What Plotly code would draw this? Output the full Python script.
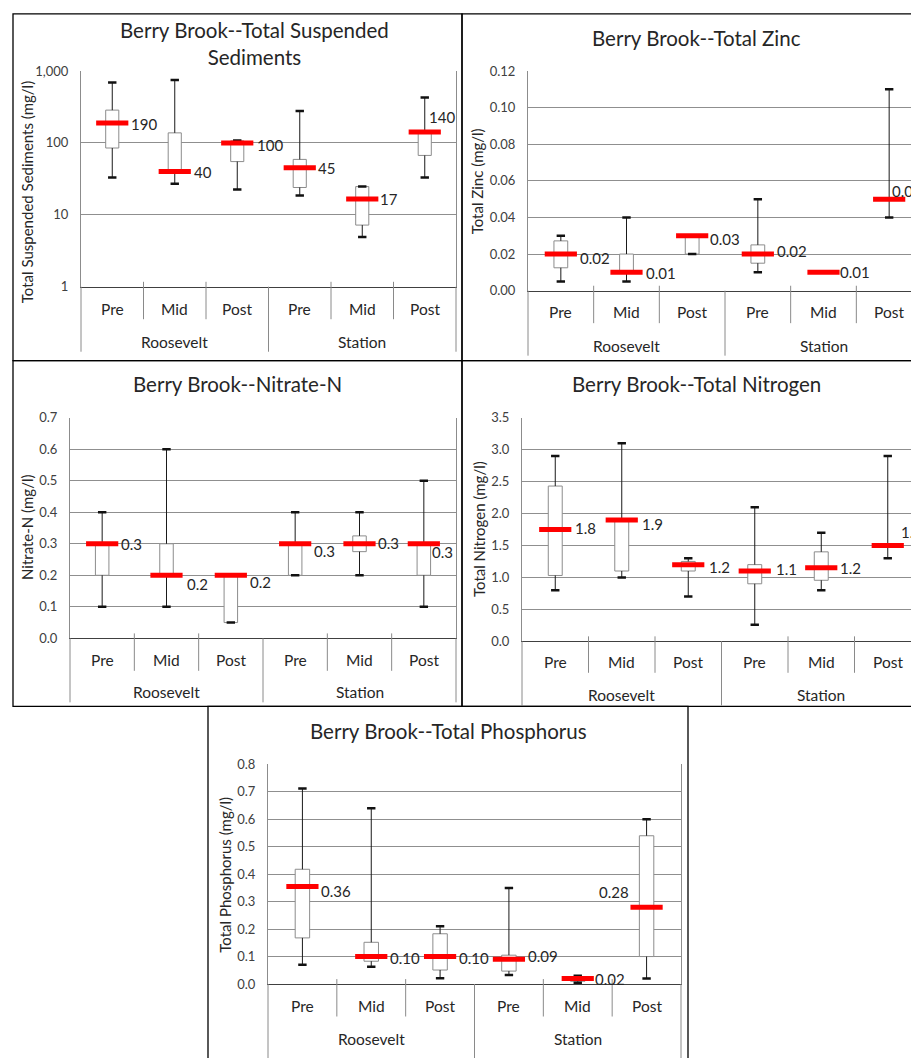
import numpy as np
import plotly.graph_objects as go

W, H = 911, 1058
FONT = "Lato"

categories = ["Pre", "Mid", "Post", "Pre", "Mid", "Post"]
groups = ["Roosevelt", "Station"]

# ---- Total Suspended Sediments (mg/l) ----
tss_min = [33, 27, 22.5, 18.5, 4.9, 33]
tss_q1 = [85, 40, 55, 24, 7.2, 67]
tss_med = [190, 40, 100, 45, 16.6, 142]
tss_q3 = [286, 138, 107, 59, 24.7, 142]
tss_max = [690, 750, 108, 277, 24.7, 430]
tss_lbl = ["190", "40", "100", "45", "17", "140"]

# ---- Total Zinc (mg/l) ----
zn_min = [0.005, 0.005, 0.02, 0.01, 0.01, 0.04]
zn_q1 = [0.0125, 0.01, 0.02, 0.015, 0.01, 0.05]
zn_med = [0.02, 0.01, 0.03, 0.02, 0.01, 0.05]
zn_q3 = [0.0272, 0.02, 0.03, 0.025, 0.01, 0.05]
zn_max = [0.03, 0.04, 0.03, 0.05, 0.01, 0.11]
zn_lbl = ["0.02", "0.01", "0.03", "0.02", "0.01", "0.05"]

# ---- Nitrate-N (mg/l) ----
no3_min = [0.1, 0.1, 0.05, 0.2, 0.2, 0.1]
no3_q1 = [0.2, 0.2, 0.05, 0.2, 0.275, 0.2]
no3_med = [0.3, 0.2, 0.2, 0.3, 0.3, 0.3]
no3_q3 = [0.3, 0.3, 0.2, 0.3, 0.325, 0.3]
no3_max = [0.4, 0.6, 0.2, 0.4, 0.4, 0.5]
no3_lbl = ["0.3", "0.2", "0.2", "0.3", "0.3", "0.3"]

# ---- Total Nitrogen (mg/l) ----
tn_min = [0.8, 1.0, 0.7, 0.26, 0.8, 1.3]
tn_q1 = [1.03, 1.1, 1.1, 0.9, 0.955, 1.5]
tn_med = [1.75, 1.9, 1.2, 1.1, 1.15, 1.5]
tn_q3 = [2.43, 1.9, 1.25, 1.2, 1.4, 1.5]
tn_max = [2.9, 3.1, 1.3, 2.1, 1.7, 2.9]
tn_lbl = ["1.8", "1.9", "1.2", "1.1", "1.2", "1.5"]

# ---- Total Phosphorus (mg/l) ----
tp_min = [0.07, 0.063, 0.021, 0.033, 0.005, 0.02]
tp_q1 = [0.168, 0.083, 0.051, 0.047, 0.01, 0.10]
tp_med = [0.355, 0.10, 0.10, 0.09, 0.02, 0.28]
tp_q3 = [0.418, 0.152, 0.183, 0.105, 0.025, 0.54]
tp_max = [0.712, 0.64, 0.21, 0.35, 0.03, 0.6]
tp_lbl = ["0.36", "0.10", "0.10", "0.09", "0.02", "0.28"]


def px(x):
    return x / W


def py(y):
    return 1 - y / H


# panel layout (pixel geometry, styles)
panels = [
    dict(data=(tss_min, tss_q1, tss_med, tss_q3, tss_max, tss_lbl),
         title="Berry Brook--Total Suspended<br>Sediments", title_xy=(254, 36.5),
         ytitle="Total Suspended Sediments (mg/l)", ytitle_xy=(27, 187),
         left=81, right_full=456, right_vis=456, top=64, bottom=283,
         inner_y=306, group_y=339, inner_div=316, group_div=349,
         log=True, yrange=[0, 3], tickvals=[1, 10, 100, 1000], ticktext=["1", "10", "100", "1,000"],
         mirror=True,
         offs=[(17, -1, "left"), (17, 0, "left"), (18, -2, "left"), (16, 0, "left"), (16, 0, "left"), (2, 15, "left")],
         border=(13, 6, 462, 358)),
    dict(data=(zn_min, zn_q1, zn_med, zn_q3, zn_max, zn_lbl),
         title="Berry Brook--Total Zinc", title_xy=(696.5, 30),
         ytitle="Total Zinc (mg/l)", ytitle_xy=(477, 176),
         left=528, right_full=922, right_vis=911, top=64, bottom=287,
         inner_y=309, group_y=343, inner_div=320, group_div=353,
         log=False, yrange=[0, 0.12], dtick=0.02, tickformat=".2f",
         mirror=False,
         offs=[(17, -4, "left"), (17, -1, "left"), (16, -3, "left"), (17, 3, "left"), (14, 0, "left"), (1, 8, "left")],
         border=(462, 6, 930, 358)),
    dict(data=(no3_min, no3_q1, no3_med, no3_q3, no3_max, no3_lbl),
         title="Berry Brook--Nitrate-N", title_xy=(237.5, 382),
         ytitle="Nitrate-N (mg/l)", ytitle_xy=(27, 527),
         left=70, right_full=456, right_vis=456, top=416, bottom=640,
         inner_y=662, group_y=695, inner_div=673, group_div=705,
         log=False, yrange=[0, 0.7], dtick=0.1, tickformat=".1f",
         mirror=True,
         offs=[(17, 0, "left"), (18, -9, "left"), (17, -7, "left"), (17, -7, "left"), (16, 1, "left"), (6, -8, "left")],
         border=(13, 358, 462, 709)),
    dict(data=(tn_min, tn_q1, tn_med, tn_q3, tn_max, tn_lbl),
         title="Berry Brook--Total Nitrogen", title_xy=(696, 382),
         ytitle="Total Nitrogen (mg/l)", ytitle_xy=(479, 529),
         left=522, right_full=921, right_vis=911, top=416, bottom=643,
         inner_y=664, group_y=698, inner_div=675, group_div=708,
         log=False, yrange=[0, 3.5], dtick=0.5, tickformat=".1f",
         mirror=False,
         offs=[(18, 1, "left"), (18, -4, "left"), (19, -2, "left"), (19, 2, "left"), (17, 0, "left"), (11, 13, "left")],
         border=(462, 358, 930, 709)),
    dict(data=(tp_min, tp_q1, tp_med, tp_q3, tp_max, tp_lbl),
         title="Berry Brook--Total Phosphorus", title_xy=(448, 734),
         ytitle="Total Phosphorus (mg/l)", ytitle_xy=(225, 880),
         left=268, right_full=681, right_vis=681, top=768, bottom=991,
         inner_y=1013, group_y=1047, inner_div=1024, group_div=1070,
         log=False, yrange=[0, 0.8], dtick=0.1, tickformat=".1f",
         mirror=True,
         offs=[(17, -4, "left"), (17, -1, "left"), (17, -1, "left"), (17, 3, "left"), (15, 0, "left"), (-16, 15, "right")],
         border=(208, 709, 688, 1075)),
]

fig = go.Figure()
shapes = []
annotations = []
layout_axes = {}

GRID = "#8f8f8f"
DIV = "#8a8a8a"
TXT = "#262626"
TICK = "#404040"

for k, p in enumerate(panels):
    n = "" if k == 0 else str(k + 1)
    xa, ya = "x" + n, "y" + n
    vmin, vq1, vmed, vq3, vmax, vlbl = p["data"]
    xs = list(range(len(categories)))
    cw = (p["right_full"] - p["left"]) / 6
    xr = [-0.5, -0.5 + (p["right_vis"] - p["left"]) / cw]

    # whiskers
    wx, wy = [], []
    for i in xs:
        wx += [i, i, None, i, i, None]
        wy += [vq3[i], vmax[i], None, vq1[i], vmin[i], None]
    fig.add_trace(go.Scatter(x=wx, y=wy, mode="lines", line=dict(color="#1a1a1a", width=1),
                             xaxis=xa, yaxis=ya, showlegend=False, hoverinfo="skip"))
    # boxes
    fig.add_trace(go.Box(x=xs, q1=vq1, median=vmed, q3=vq3, lowerfence=vq1, upperfence=vq3,
                         width=0.21, fillcolor="white", line=dict(color="#8c8c8c", width=1),
                         whiskerwidth=0, boxpoints=False, xaxis=xa, yaxis=ya, showlegend=False))
    # caps
    fig.add_trace(go.Scatter(x=xs + xs, y=list(vmax) + list(vmin), mode="markers",
                             marker=dict(symbol="line-ew", size=6, line=dict(color="#111111", width=2.5)),
                             xaxis=xa, yaxis=ya, showlegend=False, hoverinfo="skip"))
    # medians
    fig.add_trace(go.Scatter(x=xs, y=vmed, mode="markers",
                             marker=dict(symbol="line-ew", size=23, line=dict(color="#ff0000", width=5)),
                             xaxis=xa, yaxis=ya, showlegend=False, hoverinfo="skip"))
    # data labels
    for i in xs:
        dx, dy, anc = p["offs"][i]
        yv = np.log10(vmed[i]) if p["log"] else vmed[i]
        annotations.append(dict(x=i, y=yv, xref=xa, yref=ya, text=vlbl[i], showarrow=False,
                                xanchor=anc, yanchor="middle", xshift=dx, yshift=dy,
                                font=dict(family=FONT, size=15, color=TXT)))

    yax = dict(domain=[py(p["bottom"]), py(p["top"])], anchor=xa, range=p["yrange"],
               showgrid=True, gridcolor=GRID, gridwidth=1, zeroline=False,
               showline=True, linecolor="#8c8c8c", linewidth=1, mirror=p["mirror"],
               ticks="outside", ticklen=9, tickcolor="rgba(0,0,0,0)",
               tickfont=dict(family=FONT, size=13, color=TICK))
    if p["log"]:
        yax.update(type="log", tickvals=p["tickvals"], ticktext=p["ticktext"])
    else:
        yax.update(dtick=p["dtick"], tickformat=p["tickformat"], tick0=0)
    xax = dict(domain=[px(p["left"]), min(1, px(p["right_vis"]))], anchor=ya, range=xr,
               showgrid=False, zeroline=False, showticklabels=False, ticks="",
               showline=True, linecolor="#404040", linewidth=1.2)
    layout_axes["xaxis" + n] = xax
    layout_axes["yaxis" + n] = yax

    # category labels and dividers
    for i in xs:
        annotations.append(dict(x=i, y=py(p["inner_y"]), xref=xa, yref="paper", text=categories[i],
                                showarrow=False, xanchor="center", yanchor="middle",
                                font=dict(family=FONT, size=15.5, color=TXT)))
    for g, name in enumerate(groups):
        annotations.append(dict(x=3 * g + 1, y=py(p["group_y"]), xref=xa, yref="paper", text=name,
                                showarrow=False, xanchor="center", yanchor="middle",
                                font=dict(family=FONT, size=15.5, color=TXT)))
    for b in range(7):
        xp = p["left"] + b * cw
        if xp > W + 1:
            continue
        bottom = p["group_div"] if b % 3 == 0 else p["inner_div"]
        topy = p["bottom"] if b % 3 == 0 else p["bottom"] - 5
        shapes.append(dict(type="line", xref="paper", yref="paper", x0=px(xp), x1=px(xp),
                           y0=py(topy), y1=py(bottom), line=dict(color=DIV, width=1)))

    # titles
    annotations.append(dict(x=px(p["title_xy"][0]), y=py(p["title_xy"][1]), xref="paper", yref="paper",
                            text=p["title"], showarrow=False, xanchor="center", yanchor="middle",
                            font=dict(family=FONT, size=20.5, color=TXT)))
    annotations.append(dict(x=px(p["ytitle_xy"][0]), y=py(p["ytitle_xy"][1]), xref="paper", yref="paper",
                            text=p["ytitle"], showarrow=False, xanchor="center", yanchor="middle",
                            textangle=-90, font=dict(family=FONT, size=15, color=TXT)))
    # panel border
    x0, y0, x1, y1 = p["border"]
    shapes.append(dict(type="rect", xref="paper", yref="paper", x0=px(x0), x1=px(x1),
                       y0=py(y1), y1=py(y0), line=dict(color="#000000", width=1.3)))

fig.update_layout(width=W, height=H, margin=dict(l=0, r=0, t=0, b=0),
                  paper_bgcolor="white", plot_bgcolor="white",
                  shapes=shapes, annotations=annotations, **layout_axes)

fig.write_html("out.html", config={"displayModeBar": False},
               post_script="document.body.style.margin='0';document.body.style.overflow='hidden';")
